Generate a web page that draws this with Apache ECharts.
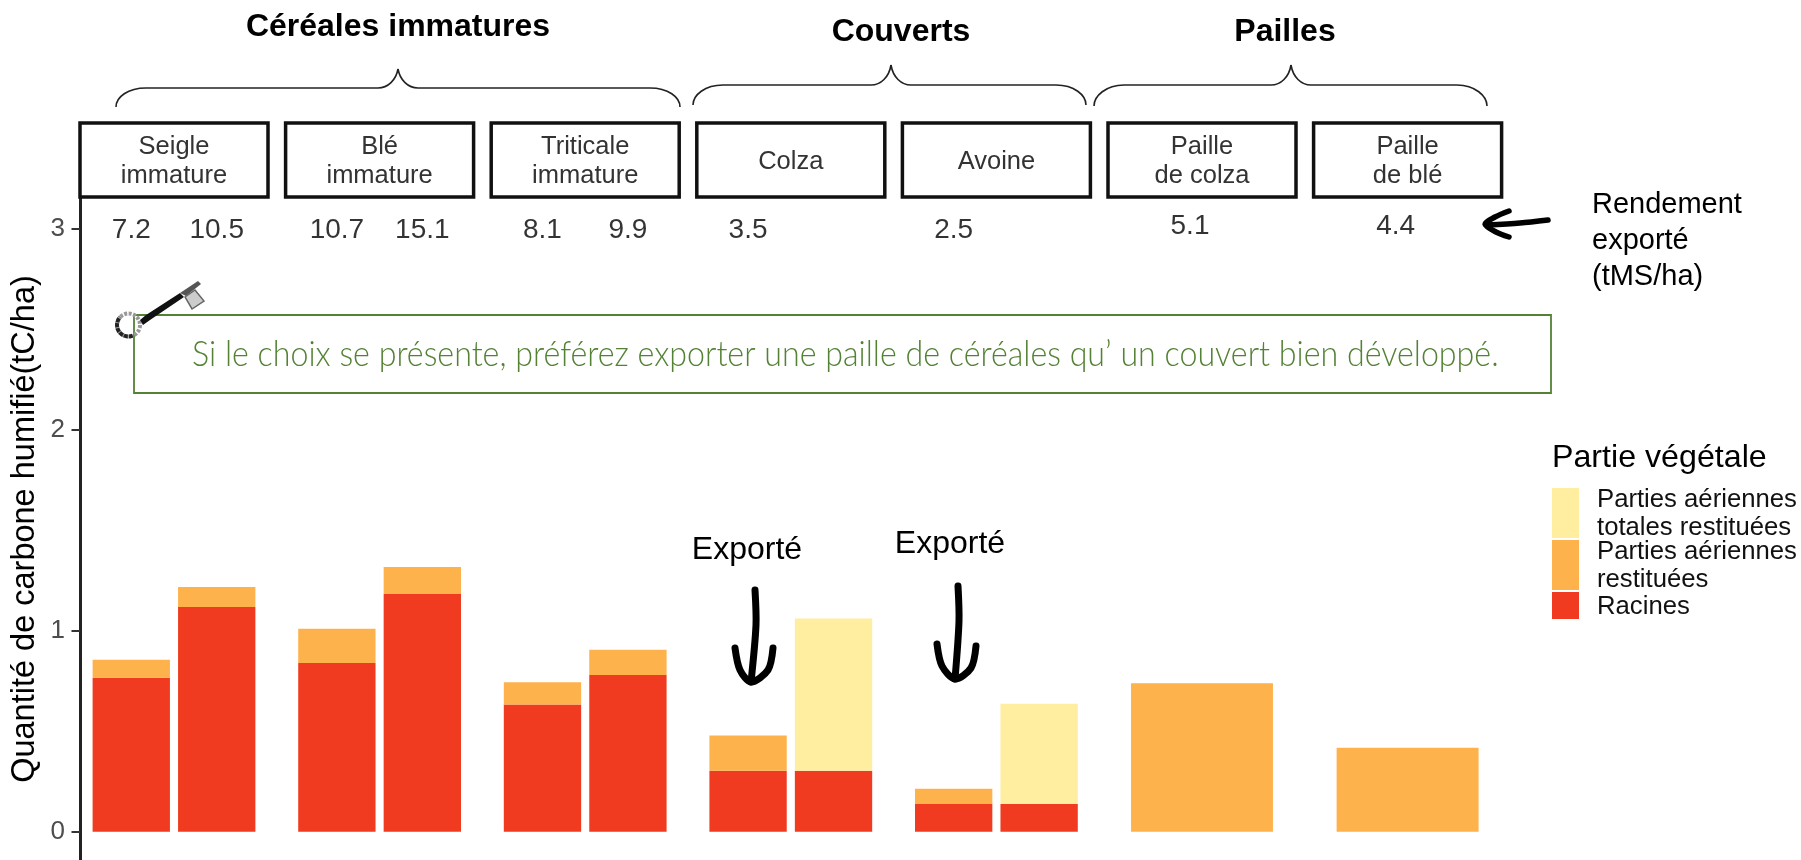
<!DOCTYPE html>
<html><head><meta charset="utf-8">
<style>html,body{margin:0;padding:0;background:#fff}#c{width:1801px;height:860px}</style>
<script src="https://cdn.jsdelivr.net/npm/echarts@6/dist/echarts.min.js"></script>
</head><body><div id="c"></div>
<script>
const facetNames = ['Seigle\nimmature','Blé\nimmature','Triticale\nimmature','Colza','Avoine','Paille\nde colza','Paille\nde blé'];
const barCats = [['a','b'],['a','b'],['a','b'],['a','b'],['a','b'],['a'],['a']];
const racines = [[0.766,1.118],[0.839,1.182],[0.633,0.779],[0.303,0.303],[0.138,0.138],[0],[0]];
const aeriennes = [[0.090,0.099],[0.171,0.135],[0.110,0.126],[0.176,0],[0.076,0],[0.738],[0.418]];
const totales = [[0,0],[0,0],[0,0],[0,0.758],[0,0.499],[0],[0]];
const rendement = [['7.2','10.5'],['10.7','15.1'],['8.1','9.9'],['3.5',null],['2.5',null],['5.1'],['4.4']];
const groups = ['Céréales immatures','Couverts','Pailles'];
const legendTitle = 'Partie végétale';
const legendLabels = ['Parties aériennes\ntotales restituées','Parties aériennes\nrestituées','Racines'];
const yTicks = [0,1,2,3];
const yTitle = 'Quantité de carbone humifié(tC/ha)';
const note = "Si le choix se présente, préférez exporter une paille de céréales qu’ un couvert bien développé.";
const sideNote = 'Rendement\nexporté\n(tMS/ha)';
const exportLabel = 'Exporté';

const COL = {r:'#F03B20', o:'#FEB24C', y:'#FFEDA0'};
const FONT = '"Liberation Sans", Arial, sans-serif';
const gridTop = 198, gridBottom = 860, facetL = 80, facetW = 188, facetStep = 205.6;
const yMax = (831.7-gridTop)/201, yMin = (831.7-gridBottom)/201;

const grids=[], xAxes=[], yAxes=[], series=[];
facetNames.forEach((n,i)=>{
  const two = barCats[i].length===2;
  const inset = two ? 8.55 : 0;
  grids.push({left:facetL+i*facetStep+inset, width:facetW-2*inset, top:gridTop, height:gridBottom-gridTop, containLabel:false});
  xAxes.push({type:'category', gridIndex:i, data:barCats[i], axisLine:{show:false}, axisTick:{show:false}, axisLabel:{show:false}, splitLine:{show:false}});
  yAxes.push(i===0 ? {
    type:'value', gridIndex:i, min:yMin, max:yMax, offset:8.55,
    name:yTitle, nameLocation:'middle', nameGap:38, nameTextStyle:{fontFamily:FONT,fontSize:32.5,color:'#000'},
    axisLine:{show:true,lineStyle:{color:'#222',width:3}},
    axisTick:{show:true,length:8.5,lineStyle:{color:'#333',width:2},customValues:yTicks},
    axisLabel:{show:true,margin:15,fontFamily:FONT,fontSize:26,color:'#4D4D4D',customValues:yTicks},
    splitLine:{show:false}
  } : {type:'value', gridIndex:i, min:yMin, max:yMax, show:false, splitLine:{show:false}});
  const barW = two ? '90.5%' : '75.5%';
  [['Racines',racines,COL.r],['Parties aériennes restituées',aeriennes,COL.o],['Parties aériennes totales restituées',totales,COL.y]].forEach(([nm,arr,c])=>{
    series.push({type:'bar', name:nm, xAxisIndex:i, yAxisIndex:i, stack:'s'+i, barWidth:barW, data:arr[i], itemStyle:{color:c}, silent:true, animation:false});
  });
  const dx = i>=5 ? -12 : 0, dy = i>=5 ? -2 : 2;
  series.push({type:'scatter', xAxisIndex:i, yAxisIndex:i, symbolSize:1, itemStyle:{color:'transparent'}, silent:true, animation:false,
    data:rendement[i].map((t,k)=>t===null?null:{value:[k,3],name:t}).filter(Boolean),
    label:{show:true,position:'inside',offset:[dx,dy],formatter:p=>p.name,fontFamily:FONT,fontSize:28,color:'#000'}});
});

const g=[];
const txt=(x,y,text,o={})=>g.push({type:'text',x,y,silent:true,z:o.z||10,style:{text,fontFamily:o.ff||FONT,fontSize:o.fs||27,fontWeight:o.fw||'normal',fill:o.c||'#000',textAlign:o.a||'left',textVerticalAlign:'middle',lineHeight:o.lh||undefined}, scaleX:o.sx||1});
// strips
facetNames.forEach((n,i)=>{
  const x=facetL+i*facetStep;
  g.push({type:'rect',silent:true,z:5,shape:{x:x,y:123,width:facetW,height:74},style:{fill:'#fff',stroke:'#111',lineWidth:3.5}});
  txt(x+facetW/2,161.5,n,{a:'center',fs:25.5,c:'#333',lh:29});
});
// braces
function brace(x0,x1,xm,yb,yf,yp){
  const s={stroke:'#222',lineWidth:1.6,fill:'none'};
  const bz=(a,b,c1,c2)=>g.push({type:'bezierCurve',silent:true,z:6,shape:{x1:a[0],y1:a[1],x2:b[0],y2:b[1],cpx1:c1[0],cpy1:c1[1],cpx2:c2[0],cpy2:c2[1]},style:s});
  const ln=(a,b)=>g.push({type:'line',silent:true,z:6,shape:{x1:a[0],y1:a[1],x2:b[0],y2:b[1]},style:s});
  bz([x0,yb],[x0+30,yf],[x0,yb-10],[x0+12,yf]);
  ln([x0+30,yf],[xm-20,yf]);
  bz([xm-20,yf],[xm,yp],[xm-10,yf],[xm-2,yf-8]);
  bz([xm,yp],[xm+20,yf],[xm+2,yf-8],[xm+10,yf]);
  ln([xm+20,yf],[x1-30,yf]);
  bz([x1-30,yf],[x1,yb],[x1-12,yf],[x1,yb-10]);
}
brace(116,680,398,107,88,69);
brace(693,1086,891,105,85,65);
brace(1094,1487,1291,106,85,65);
txt(398,27,groups[0],{a:'center',fs:32,fw:'bold'});
txt(901,32,groups[1],{a:'center',fs:32,fw:'bold'});
txt(1285,32,groups[2],{a:'center',fs:32,fw:'bold'});
// note box
g.push({type:'rect',silent:true,z:6,shape:{x:134,y:315,width:1417,height:78},style:{fill:'#fff',stroke:'#548235',lineWidth:1.8}});
txt(192,355,note,{ff:'Lato, sans-serif',fs:35,fw:300,c:'#548235',sx:0.92});
// key
g.push({type:'arc',silent:true,z:12,shape:{cx:128.5,cy:325,r:11.5,startAngle:0,endAngle:6.283},style:{stroke:'#999',lineWidth:4,lineDash:[3,1.5],fill:'none'}});
g.push({type:'arc',silent:true,z:12,shape:{cx:128.5,cy:325,r:11.5,startAngle:1.2,endAngle:3.9,clockwise:true},style:{stroke:'#222',lineWidth:4,lineDash:[4,1],fill:'none'}});
g.push({type:'polygon',silent:true,z:12,shape:{points:[[140,320],[146,315],[180,293],[184,297],[150,320],[143,325]]},style:{fill:'#111'}});
g.push({type:'polygon',silent:true,z:12,shape:{points:[[180,293],[198,281],[201,284],[186,296]]},style:{fill:'#555'}});
g.push({type:'polygon',silent:true,z:12,shape:{points:[[185,297],[195,290],[204,301],[192,309]]},style:{fill:'#ccc',stroke:'#666',lineWidth:1.5}});
// side note + arrow
txt(1592,241,sideNote,{fs:29,lh:36});
const pen=(pts,w)=>g.push({type:'polyline',silent:true,z:12,shape:{points:pts,smooth:0.3},style:{stroke:'#000',lineWidth:w,lineCap:'round',lineJoin:'round',fill:'none'}});
pen([[1548,220],[1520,223],[1487,225]],5.5);
pen([[1509,211],[1495,217],[1485,224],[1496,232],[1509,237]],5.5);
// export arrows
[[755,590,751,682,735,648,773,648],[958,586,955,679,937,644,976,646]].forEach(a=>{
  pen([[a[0],a[1]],[a[0]+1,a[1]+35],[a[2],a[3]]],7);
  pen([[a[4],a[5]],[a[4]+5,a[5]+22],[a[2],a[3]],[a[6]-5,a[7]+22],[a[6],a[7]]],7);
});
txt(747,550,exportLabel,{a:'center',fs:32});
txt(950,544,exportLabel,{a:'center',fs:32});
// legend
txt(1552,458,legendTitle,{fs:32.2,c:'#000'});
[[488,50,COL.y],[540,50,COL.o],[592,27,COL.r]].forEach(([y,h,c])=>g.push({type:'rect',silent:true,z:6,shape:{x:1552,y,width:27,height:h},style:{fill:c}}));
txt(1597,514,legendLabels[0],{fs:25.7,lh:28,c:'#111'});
txt(1597,566,legendLabels[1],{fs:25.7,lh:28,c:'#111'});
txt(1597,607,legendLabels[2],{fs:25.7,c:'#111'});

const chart=echarts.init(document.getElementById('c'),null,{renderer:'canvas'});
chart.setOption({backgroundColor:'#fff',animation:false,grid:grids,xAxis:xAxes,yAxis:yAxes,series,graphic:{elements:g},tooltip:{show:false}});
</script></body></html>
